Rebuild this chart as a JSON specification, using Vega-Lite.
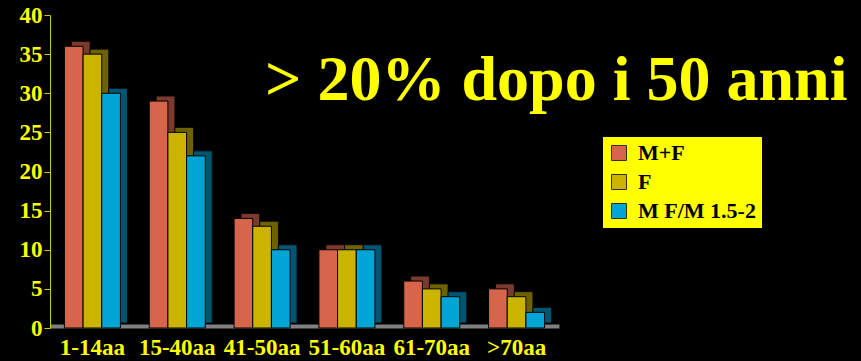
{
  "$schema": "https://vega.github.io/schema/vega-lite/v6.json",
  "width": 509,
  "height": 313,
  "autosize": {"type": "none"},
  "padding": {"left": 50, "top": 15, "right": 302, "bottom": 33},
  "background": "#000000",
  "title": {
    "text": "> 20% dopo i 50 anni",
    "anchor": "start",
    "frame": "group",
    "font": "Liberation Serif",
    "fontSize": 64,
    "fontWeight": "bold",
    "color": "#FFFF00",
    "baseline": "alphabetic",
    "offset": 0,
    "dx": 215,
    "dy": 160
  },
  "config": {
    "view": {"stroke": null},
    "axis": {"grid": false}
  },
  "data": {
    "values": [
      {"cat": "1-14aa", "series": "M+F", "value": 36},
      {"cat": "1-14aa", "series": "F", "value": 35},
      {"cat": "1-14aa", "series": "M F/M 1.5-2", "value": 30},
      {"cat": "15-40aa", "series": "M+F", "value": 29},
      {"cat": "15-40aa", "series": "F", "value": 25},
      {"cat": "15-40aa", "series": "M F/M 1.5-2", "value": 22},
      {"cat": "41-50aa", "series": "M+F", "value": 14},
      {"cat": "41-50aa", "series": "F", "value": 13},
      {"cat": "41-50aa", "series": "M F/M 1.5-2", "value": 10},
      {"cat": "51-60aa", "series": "M+F", "value": 10},
      {"cat": "51-60aa", "series": "F", "value": 10},
      {"cat": "51-60aa", "series": "M F/M 1.5-2", "value": 10},
      {"cat": "61-70aa", "series": "M+F", "value": 6},
      {"cat": "61-70aa", "series": "F", "value": 5},
      {"cat": "61-70aa", "series": "M F/M 1.5-2", "value": 4},
      {"cat": ">70aa", "series": "M+F", "value": 5},
      {"cat": ">70aa", "series": "F", "value": 4},
      {"cat": ">70aa", "series": "M F/M 1.5-2", "value": 2}
    ]
  },
  "encoding": {
    "x": {
      "field": "cat",
      "type": "nominal",
      "sort": null,
      "scale": {"paddingInner": 0.34, "paddingOuter": 0.17},
      "axis": {
        "title": null,
        "labelAngle": 0,
        "ticks": false,
        "domainColor": "#808080",
        "domainWidth": 4,
        "offset": -2,
        "labelColor": "#FFFF00",
        "labelFont": "Liberation Serif",
        "labelFontSize": 23,
        "labelFontWeight": "bold",
        "labelBaseline": "alphabetic",
        "labelPadding": 28
      }
    },
    "y": {
      "field": "value",
      "type": "quantitative",
      "scale": {"domain": [0, 40]},
      "axis": {
        "title": null,
        "values": [0, 5, 10, 15, 20, 25, 30, 35, 40],
        "domainColor": "#CCCC00",
        "tickColor": "#CCCC00",
        "tickSize": 6,
        "labelColor": "#FFFF00",
        "labelFont": "Liberation Serif",
        "labelFontSize": 23,
        "labelFontWeight": "bold",
        "labelPadding": 2
      }
    }
  },
  "layer": [
    {
      "mark": {"type": "bar", "yOffset": -5, "stroke": "#000000", "strokeWidth": 0.8},
      "encoding": {
        "xOffset": {
          "field": "series",
          "type": "nominal",
          "sort": ["M+F", "F", "M F/M 1.5-2"],
          "scale": {"paddingInner": 0, "paddingOuter": 0, "range": [7, 63]}
        },
        "color": {
          "field": "series",
          "type": "nominal",
          "sort": ["M+F", "F", "M F/M 1.5-2"],
          "scale": {"domain": ["M+F", "F", "M F/M 1.5-2"], "range": ["#7B3A2E", "#6E6200", "#005570"]},
          "legend": null
        }
      }
    },
    {
      "mark": {"type": "bar", "stroke": "#000000", "strokeWidth": 1},
      "encoding": {
        "xOffset": {
          "field": "series",
          "type": "nominal",
          "sort": ["M+F", "F", "M F/M 1.5-2"],
          "scale": {"paddingInner": 0, "paddingOuter": 0, "range": [0, 56]}
        },
        "color": {
          "field": "series",
          "type": "nominal",
          "sort": ["M+F", "F", "M F/M 1.5-2"],
          "scale": {"domain": ["M+F", "F", "M F/M 1.5-2"], "range": ["#D6654B", "#CCB300", "#00A5D6"]},
          "legend": {
            "title": null,
            "orient": "none",
            "legendX": 552,
            "legendY": 121,
            "fillColor": "#FFFF00",
            "strokeColor": "#000000",
            "padding": 6,
            "symbolType": "square",
            "symbolSize": 225,
            "symbolStrokeColor": "#333300",
            "symbolStrokeWidth": 1,
            "symbolOpacity": 1,
            "labelFont": "Liberation Serif",
            "labelFontSize": 22,
            "labelFontWeight": "bold",
            "labelColor": "#000000",
            "labelOffset": 8,
            "rowPadding": 7,
            "labelLimit": 300
          }
        }
      }
    }
  ],
  "resolve": {"scale": {"color": "independent", "xOffset": "independent"}}
}
